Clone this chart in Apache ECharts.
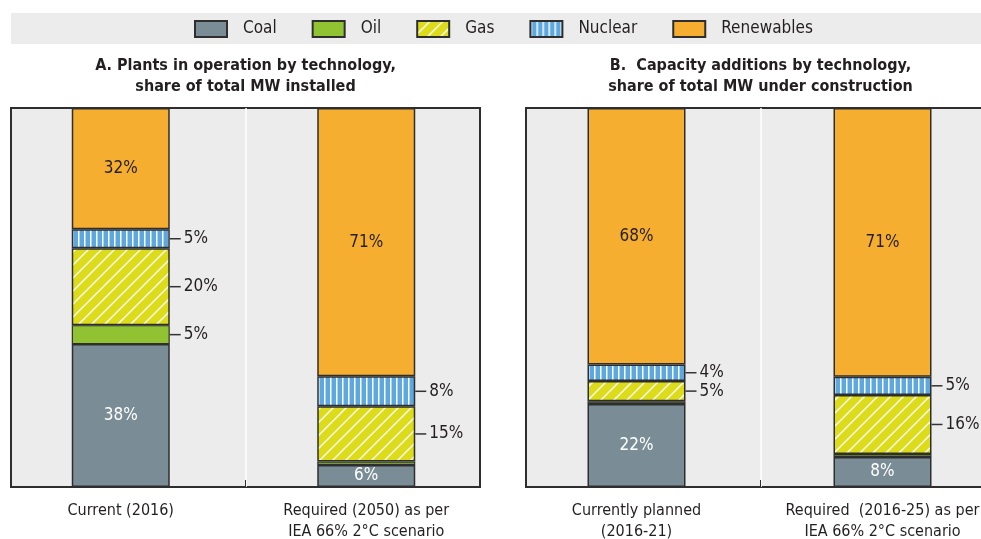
<!DOCTYPE html>
<html>
<head>
<meta charset="utf-8">
<script src="https://cdn.jsdelivr.net/npm/echarts@6/dist/echarts.min.js"></script>
<style>
html,body{margin:0;padding:0;background:#fff;}
#chart{width:981px;height:539px;}
</style>
</head>
<body>
<div id="chart"></div>
<script>
// ---- data ----
const seriesNames = ['Coal', 'Oil', 'Gas', 'Nuclear', 'Renewables'];
const categoriesA = ['Current (2016)', 'Required (2050) as per\nIEA 66% 2°C scenario'];
const categoriesB = ['Currently planned\n(2016-21)', 'Required  (2016-25) as per\nIEA 66% 2°C scenario'];
const titleA = 'A. Plants in operation by technology,\nshare of total MW installed';
const titleB = 'B.  Capacity additions by technology,\nshare of total MW under construction';

const coalA = [37.7, 5.8];
const oilA = [5.0, 0.9];
const gasA = [20.3, 14.6];
const nuclearA = [5.0, 7.9];
const renewablesA = [32.0, 70.8];

const coalB = [21.9, 7.9];
const oilB = [0.7, 0.8];
const gasB = [5.4, 15.6];
const nuclearB = [4.3, 4.8];
const renewablesB = [67.7, 70.9];

// ---- styles ----
const FONT = '"DejaVu Sans Condensed", "Liberation Sans Narrow", sans-serif';
const TXT = '#231f20';
const BORDER = '#2e2e2e';
const PANEL_BG = '#ececec';

function hatchPattern() {
  const s = 13;
  const c = document.createElement('canvas');
  c.width = s; c.height = s;
  const g = c.getContext('2d');
  g.fillStyle = '#dcdc1b';
  g.fillRect(0, 0, s, s);
  g.strokeStyle = '#ffffff';
  g.lineWidth = 1.4;
  g.beginPath();
  g.moveTo(-1, s + 1); g.lineTo(s + 1, -1);
  g.moveTo(-1, 1); g.lineTo(1, -1);
  g.moveTo(s - 1, s + 1); g.lineTo(s + 1, s - 1);
  g.stroke();
  return { image: c, repeat: 'repeat' };
}
function stripePattern() {
  const c = document.createElement('canvas');
  c.width = 6; c.height = 4;
  const g = c.getContext('2d');
  g.fillStyle = '#5ea8e0';
  g.fillRect(0, 0, 6, 4);
  g.fillStyle = '#ffffff';
  g.fillRect(0, 0, 1.5, 4);
  return { image: c, repeat: 'repeat' };
}
const colors = {
  Coal: '#7a8d96',
  Oil: '#91c232',
  Gas: hatchPattern(),
  Nuclear: stripePattern(),
  Renewables: '#f6ae30'
};

const outsideLabel = {
  show: true,
  position: 'right',
  distance: 0,
  formatter: p => (p.value < 2 ? '' : '{ln| }{t|' + Math.round(p.value) + '%}'),
  rich: {
    ln: { width: 11, height: 1.5, backgroundColor: '#333' },
    t: { fontSize: 17, color: TXT, fontFamily: FONT, padding: [0, 0, 0, 3] }
  }
};
function insideLabel(color) {
  return {
    show: true,
    position: 'inside',
    fontSize: 17,
    color: color,
    fontFamily: FONT,
    formatter: p => Math.round(p.value) + '%'
  };
}
const labelFor = {
  Coal: insideLabel('#ffffff'),
  Oil: outsideLabel,
  Gas: outsideLabel,
  Nuclear: outsideLabel,
  Renewables: insideLabel(TXT)
};

function makeSeries(panel, dataByName, axisIndex) {
  return seriesNames.map(name => ({
    name: name,
    type: 'bar',
    stack: panel,
    xAxisIndex: axisIndex,
    yAxisIndex: axisIndex,
    barWidth: 98,
    data: dataByName[name],
    itemStyle: { color: colors[name], borderColor: BORDER, borderWidth: name === 'Oil' ? 1.2 : 1.5 },
    label: labelFor[name],
    emphasis: { disabled: true }
  }));
}

const chart = echarts.init(document.getElementById('chart'), null, { renderer: 'canvas' });

const bgGridStyle = { show: true, backgroundColor: PANEL_BG, borderColor: BORDER, borderWidth: 2, outerBoundsMode: 'none', containLabel: false };

const option = {
  animation: false,
  textStyle: { fontFamily: FONT, color: TXT },
  graphic: [
    { type: 'rect', left: 11, top: 13, shape: { width: 970, height: 31 }, style: { fill: PANEL_BG }, z: -10 }
  ],
  legend: {
    data: seriesNames,
    left: 194,
    top: 20,
    padding: 0,
    itemWidth: 32,
    itemHeight: 16,
    itemGap: 35,
    icon: 'rect',
    textStyle: { fontSize: 17, color: TXT, fontFamily: FONT, padding: [0, 0, 0, 11] },
    selectedMode: false
  },
  title: [
    { text: titleA, left: 245.5, top: 55, textAlign: 'center', padding: 0,
      textStyle: { fontSize: 16, fontWeight: 'bold', lineHeight: 21, color: TXT, fontFamily: FONT } },
    { text: titleB, left: 760.5, top: 55, textAlign: 'center', padding: 0,
      textStyle: { fontSize: 16, fontWeight: 'bold', lineHeight: 21, color: TXT, fontFamily: FONT } }
  ],
  grid: [
    Object.assign({ left: 11, top: 108, width: 469, height: 379 }, bgGridStyle),
    Object.assign({ left: 526, top: 108, width: 469, height: 379 }, bgGridStyle),
    { left: -2, top: 108, width: 491, height: 379, outerBoundsMode: 'none', containLabel: false },
    { left: 513.5, top: 108, width: 492, height: 379, outerBoundsMode: 'none', containLabel: false }
  ],
  xAxis: [
    { type: 'value', gridIndex: 0, min: 0, max: 2, interval: 1,
      axisLine: { show: false }, axisLabel: { show: false },
      axisTick: { show: true, inside: true, length: 7, lineStyle: { color: BORDER, width: 1 } },
      splitLine: { show: true, showMinLine: false, showMaxLine: false, lineStyle: { color: '#ffffff', width: 1.5 } } },
    { type: 'value', gridIndex: 1, min: 0, max: 2, interval: 1,
      axisLine: { show: false }, axisLabel: { show: false },
      axisTick: { show: true, inside: true, length: 7, lineStyle: { color: BORDER, width: 1 } },
      splitLine: { show: true, showMinLine: false, showMaxLine: false, lineStyle: { color: '#ffffff', width: 1.5 } } },
    { type: 'category', gridIndex: 2, data: categoriesA,
      axisLine: { show: false }, axisTick: { show: false },
      axisLabel: { fontSize: 16, lineHeight: 21, color: TXT, margin: 13, interval: 0, fontFamily: FONT } },
    { type: 'category', gridIndex: 3, data: categoriesB,
      axisLine: { show: false }, axisTick: { show: false },
      axisLabel: { fontSize: 16, lineHeight: 21, color: TXT, margin: 13, interval: 0, fontFamily: FONT } }
  ],
  yAxis: [
    { type: 'value', gridIndex: 0, min: 0, max: 1, show: false, splitLine: { show: false } },
    { type: 'value', gridIndex: 1, min: 0, max: 1, show: false, splitLine: { show: false } },
    { type: 'value', gridIndex: 2, min: 0, max: 100, show: false, splitLine: { show: false } },
    { type: 'value', gridIndex: 3, min: 0, max: 100, show: false, splitLine: { show: false } }
  ],
  series: [].concat(
    makeSeries('A', { Coal: coalA, Oil: oilA, Gas: gasA, Nuclear: nuclearA, Renewables: renewablesA }, 2),
    makeSeries('B', { Coal: coalB, Oil: oilB, Gas: gasB, Nuclear: nuclearB, Renewables: renewablesB }, 3)
  )
};
chart.setOption(option);
</script>
</body>
</html>
